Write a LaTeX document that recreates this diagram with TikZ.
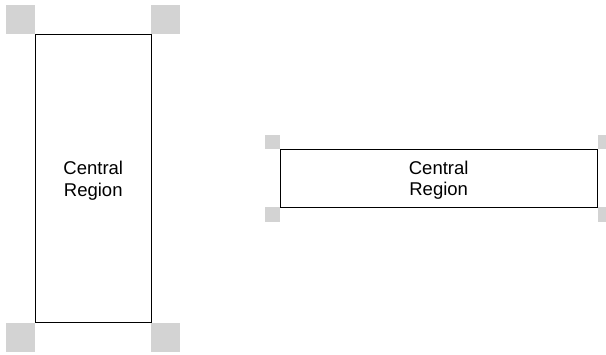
\documentclass[tikz,border=0pt]{standalone}
\usepackage{fontspec}
\setmainfont{Liberation Sans}
\begin{document}
\begin{tikzpicture}[x=1pt,y=-1pt,
  region/.style={draw=black, line width=1pt, fill=white, inner sep=0pt},
  regtext/.style={inner sep=0pt, align=center, font=\fontsize{18.5}{21.5}\selectfont},
  bigsq/.style={fill={rgb,255:red,211;green,211;blue,211}, minimum size=29pt, inner sep=0pt, draw=none},
  smallsq/.style={fill={rgb,255:red,211;green,211;blue,211}, minimum size=14.5pt, inner sep=0pt, draw=none}]
\useasboundingbox (0,0) rectangle (606,355);
% left figure
\coordinate (Lc) at (93.25,178.75);
\node[bigsq, anchor=south east] (ltl) at (35.5,34.5) {};
\node[bigsq, anchor=south west] (ltr) at (151,34.5) {};
\node[bigsq, anchor=north east] (lbl) at (35.5,323) {};
\node[bigsq, anchor=north west] (lbr) at (151,323) {};
\node[region, minimum width=115.5pt, minimum height=288.5pt] (L) at (Lc) {};
\node[regtext] (Lt) at ([yshift=-2pt]L.center) {Central\\Region};
% right figure
\coordinate (Rc) at (438.7,178.4);
\clip (0,0) rectangle (606,355);
\node[smallsq, anchor=south east] (rtl) at (280,149.5) {};
\node[smallsq, anchor=south west] (rtr) at (597.3,149.5) {};
\node[smallsq, anchor=north east] (rbl) at (280,207.3) {};
\node[smallsq, anchor=north west] (rbr) at (597.3,207.3) {};
\node[region, minimum width=317.3pt, minimum height=57.8pt] (R) at (Rc) {};
\node[regtext] (Rt) at ([yshift=-2pt]R.center) {Central\\Region};
\end{tikzpicture}
\end{document}
